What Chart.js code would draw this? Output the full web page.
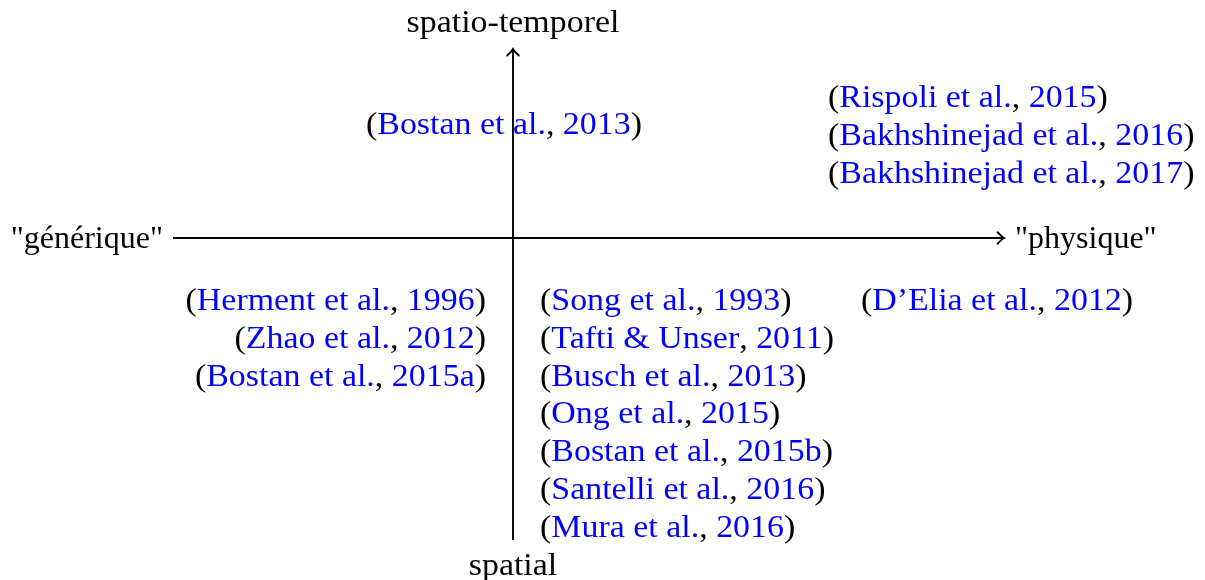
<!DOCTYPE html>
<html>
<head>
<meta charset="utf-8">
<script src="https://cdn.jsdelivr.net/npm/chart.js@4.4.1/dist/chart.umd.min.js"></script>
<style>
    html, body { margin: 0; padding: 0; background: #fff; }
    #wrap { width: 1205px; height: 580px; }
</style>
</head>
<body>
<div id="wrap"><canvas id="chart" width="1205" height="580"></canvas></div>
<script>
// Beschriftungen der Achsen (links, rechts, oben, unten)
const axisLabels = ['"générique"', '"physique"', "spatio-temporel", "spatial"];

// Zitate pro Quadrant: Autoren und Jahre
const topLeftAuthors = ["Bostan et al."];
const topLeftYears = ["2013"];
const topRightAuthors = ["Rispoli et al.", "Bakhshinejad et al.", "Bakhshinejad et al."];
const topRightYears = ["2015", "2016", "2017"];
const bottomLeftAuthors = ["Herment et al.", "Zhao et al.", "Bostan et al."];
const bottomLeftYears = ["1996", "2012", "2015a"];
const bottomMidAuthors = ["Song et al.", "Tafti & Unser", "Busch et al.", "Ong et al.", "Bostan et al.", "Santelli et al.", "Mura et al."];
const bottomMidYears = ["1993", "2011", "2013", "2015", "2015b", "2016", "2016"];
const bottomRightAuthors = ["D\u2019Elia et al."];
const bottomRightYears = ["2012"];

// Layout (Dateneinheiten, Ursprung = Achsenkreuz)
const FONT = "32px 'Liberation Serif', serif";
const STRETCH = 1.06; // Computer Modern ist etwas breiter
const LINE_STEP = 0.378;
const linkColor = "#0000ff";
const textColor = "#000000";

const groups = [
    { authors: topLeftAuthors, years: topLeftYears, x: -0.09, y: 1.04, align: "center" },
    { authors: topRightAuthors, years: topRightYears, x: 3.15, y: 1.31, align: "left" },
    { authors: bottomLeftAuthors, years: bottomLeftYears, x: -0.27, y: -0.72, align: "right" },
    { authors: bottomMidAuthors, years: bottomMidYears, x: 0.27, y: -0.72, align: "left" },
    { authors: bottomRightAuthors, years: bottomRightYears, x: 4.84, y: -0.72, align: "center" }
];
const axisLabelPos = [
    { x: -3.50, y: -0.10, align: "right", stretch: 1.0 },
    { x: 5.02, y: -0.10, align: "left", stretch: 1.0 },
    { x: 0, y: 2.06, align: "center", stretch: STRETCH },
    { x: 0, y: -3.37, align: "center", stretch: STRETCH }
];

// Zeichnet einen Text aus mehreren farbigen Teilen
function drawParts(ctx, parts, px, py, align, stretch) {
    ctx.save();
    ctx.font = FONT;
    ctx.textBaseline = "alphabetic";
    ctx.textAlign = "left";
    let total = 0;
    parts.forEach(p => { total += ctx.measureText(p[0]).width; });
    total *= stretch;
    let x0 = px;
    if (align === "center") x0 = px - total / 2;
    else if (align === "right") x0 = px - total;
    ctx.translate(x0, py);
    ctx.scale(stretch, 1);
    let x = 0;
    parts.forEach(p => {
        ctx.fillStyle = p[1];
        ctx.fillText(p[0], x, 0);
        x += ctx.measureText(p[0]).width;
    });
    ctx.restore();
}

// Pfeilspitze im TikZ-Stil
function arrowHead(ctx, tx, ty, dir) {
    ctx.save();
    ctx.translate(tx, ty);
    ctx.rotate(dir);
    ctx.beginPath();
    ctx.moveTo(-6.5, -5.8);
    ctx.quadraticCurveTo(-2, -1, 0, 0);
    ctx.quadraticCurveTo(-2, 1, -6.5, 5.8);
    ctx.strokeStyle = textColor;
    ctx.lineWidth = 1.9;
    ctx.lineCap = "round";
    ctx.stroke();
    ctx.restore();
}

const labelPlugin = {
    id: "quadrantLabels",
    afterDatasetsDraw(chart) {
        const ctx = chart.ctx;
        const xs = chart.scales.x, ys = chart.scales.y;
        // Pfeilspitzen an den Enden der Achsen
        const h = chart.data.datasets[0].data, v = chart.data.datasets[1].data;
        arrowHead(ctx, xs.getPixelForValue(h[1].x), ys.getPixelForValue(h[1].y), 0);
        arrowHead(ctx, xs.getPixelForValue(v[1].x), ys.getPixelForValue(v[1].y), -Math.PI / 2);
        // Achsenbeschriftungen
        axisLabels.forEach((t, i) => {
            const p = axisLabelPos[i];
            drawParts(ctx, [[t, textColor]], xs.getPixelForValue(p.x), ys.getPixelForValue(p.y), p.align, p.stretch);
        });
        // Zitate
        groups.forEach(g => {
            g.authors.forEach((a, i) => {
                const parts = [["(", textColor], [a, linkColor], [", ", textColor], [g.years[i], linkColor], [")", textColor]];
                drawParts(ctx, parts, xs.getPixelForValue(g.x), ys.getPixelForValue(g.y - i * LINE_STEP), g.align, STRETCH);
            });
        });
    }
};

const ctx = document.getElementById("chart").getContext("2d");
new Chart(ctx, {
    type: "scatter",
    data: {
        datasets: [
            { data: [{ x: -3.40, y: 0 }, { x: 4.91, y: 0 }], showLine: true, borderColor: textColor, borderWidth: 1.9, pointRadius: 0 },
            { data: [{ x: 0, y: -3.02 }, { x: 0, y: 1.89 }], showLine: true, borderColor: textColor, borderWidth: 1.9, pointRadius: 0 }
        ]
    },
    options: {
        responsive: false,
        animation: false,
        layout: { padding: 0 },
        scales: {
            x: { type: "linear", min: -5.13, max: 6.92, display: false },
            y: { type: "linear", min: -3.42, max: 2.38, display: false }
        },
        plugins: { legend: { display: false }, tooltip: { enabled: false } }
    },
    plugins: [labelPlugin]
});
</script>
</body>
</html>
